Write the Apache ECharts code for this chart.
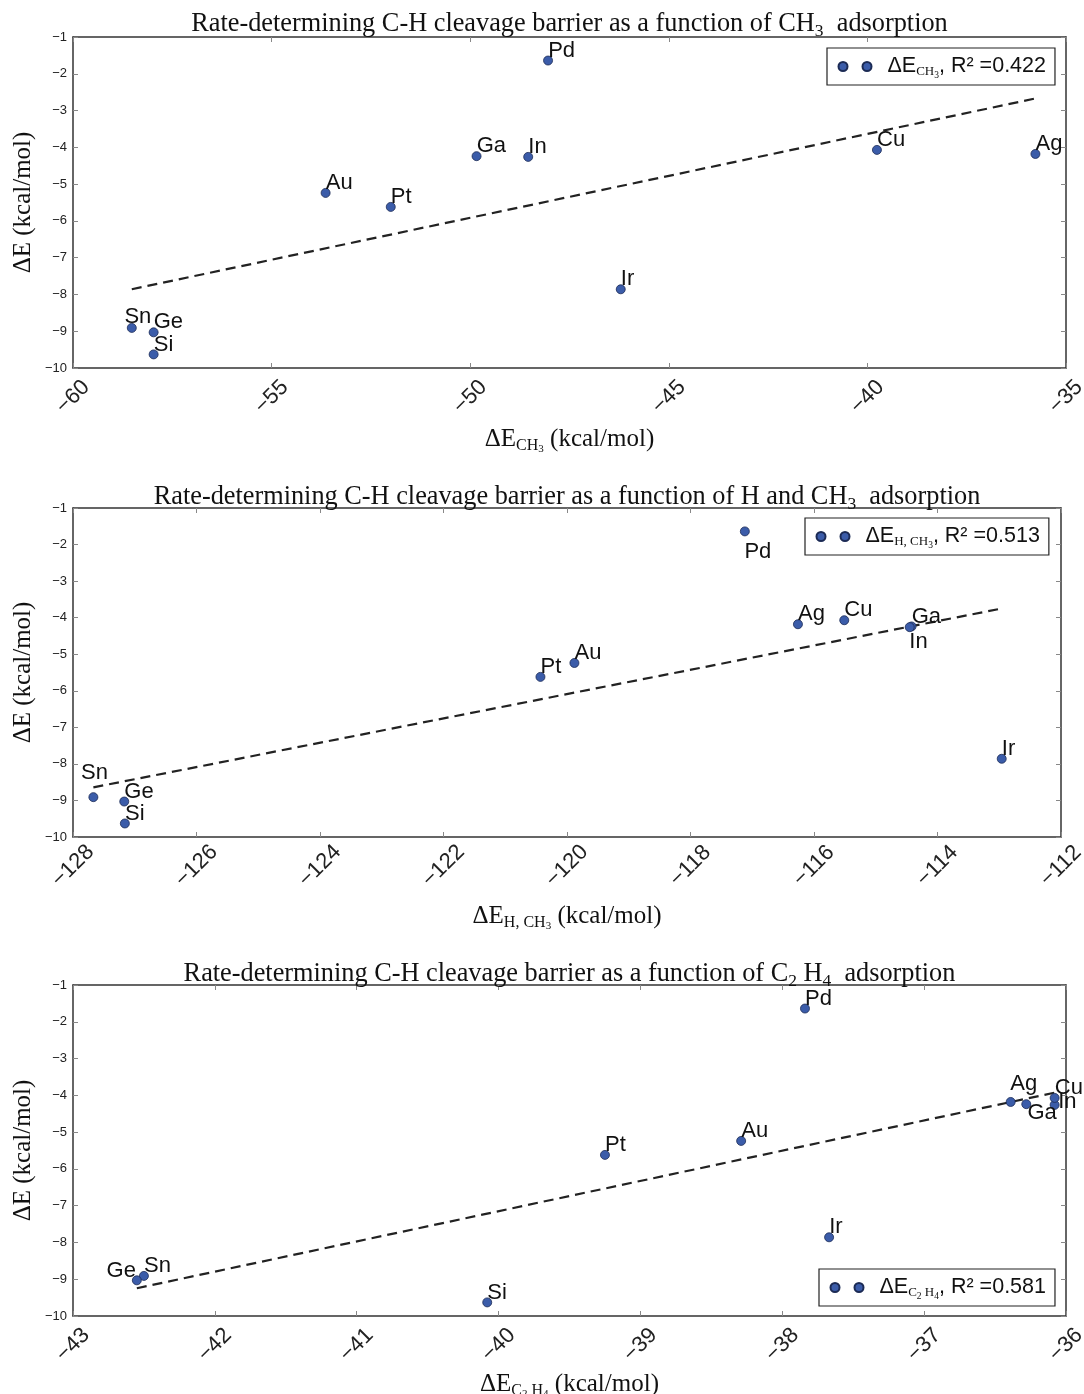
<!DOCTYPE html>
<html><head><meta charset="utf-8">
<script src="https://cdn.jsdelivr.net/npm/echarts@6/dist/echarts.min.js"></script>
<style>html,body{margin:0;padding:0;background:#fff}#c{width:1084px;height:1394px}</style>
</head><body><div id="c"></div>
<script>
// ---------------- data ----------------
const metals  = ['Pd','Ga','In','Au','Pt','Cu','Ag','Ir','Sn','Ge','Si'];
const barrier = [-1.64,-4.24,-4.26,-5.24,-5.62,-4.07,-4.18,-7.86,-8.91,-9.03,-9.63];
const eCH3    = [-48.04,-49.84,-48.54,-53.64,-52.00,-39.76,-35.77,-46.21,-58.52,-57.97,-57.97];
const eHCH3   = [-117.12,-114.42,-114.45,-119.88,-120.43,-115.51,-116.26,-112.96,-127.67,-127.17,-127.16];
const eC2H4   = [-37.84,-36.28,-36.08,-38.29,-39.25,-36.08,-36.39,-37.67,-42.50,-42.55,-40.08];
const r2Text  = ['0.422','0.513','0.581'];
const xMin = [-60,-128,-43], xMax = [-35,-112,-36], xStep = [5,2,1];
const yMin = -10, yMax = -1, yStep = 1;

// ---------------- texts ----------------
const titleTexts = [
  '{m|Rate-determining C-H cleavage barrier as a function of CH}{s|3}{m|  adsorption}',
  '{m|Rate-determining C-H cleavage barrier as a function of H and CH}{s|3}{m|  adsorption}',
  '{m|Rate-determining C-H cleavage barrier as a function of C}{s|2}{m| H}{s|4}{m|  adsorption}'
];
const subParts = ['{s|CH}{ss|3}', '{s|H, CH}{ss|3}', '{s|C}{ss|2}{s| H}{ss|4}'];
const seriesNames = ['dE_CH3','dE_H_CH3','dE_C2H4'];

// ---------------- layout / style ----------------
const SERIF = 'Liberation Serif', SANS = 'Liberation Sans', TXT = '#111';
const grids = [
  {left:73, top:37,  width:993, height:331},
  {left:73, top:508, width:988, height:329},
  {left:73, top:985, width:993, height:331}
];
const legendPos = [{left:827,top:48},{left:805,top:518},{left:819,top:1269}];
const titleTop = [9, 482, 959];
const xNameGap = [56, 64, 53];
const labelTweaks = [
  { Sn:{position:[-2.5,4.5]} },
  { Pd:{position:[4.5,14.5], verticalAlign:'top'}, In:{position:[4.5,8.5], verticalAlign:'top'}, Sn:{position:[-7.5,-8]} },
  { Ge:{position:[4,6.5], align:'right'}, Ga:{position:[6,3], verticalAlign:'top'}, In:{position:[8.5,12.5]}, Ag:{position:[4.5,-2]} }
];
const xData = [eCH3, eHCH3, eC2H4];

function fitLine(xs, ys){
  const n = xs.length;
  const mx = xs.reduce((a,b)=>a+b,0)/n, my = ys.reduce((a,b)=>a+b,0)/n;
  let sxy=0, sxx=0;
  for(let i=0;i<n;i++){ sxy += (xs[i]-mx)*(ys[i]-my); sxx += (xs[i]-mx)*(xs[i]-mx); }
  const b = sxy/sxx, a = my - b*mx;
  const x0 = Math.min(...xs), x1 = Math.max(...xs);
  return [[x0, a+b*x0],[x1, a+b*x1]];
}
const fmt = v => (v<0?'\u2212':'') + Math.abs(v);

const option = {
  animation:false,
  backgroundColor:'#fff',
  title: titleTexts.map((t,i)=>({
    text:t, left: grids[i].left + grids[i].width/2, top: titleTop[i], textAlign:'center', padding:0,
    textStyle:{ fontWeight:'normal', rich:{
      m:{fontFamily:SERIF, fontSize:26.3, lineHeight:31, fontWeight:'normal', color:TXT},
      s:{fontFamily:SERIF, fontSize:17.5, lineHeight:17.5, padding:[13,0,0,0], fontWeight:'normal', color:TXT}
    }}
  })),
  grid: grids.map(g=>Object.assign({containLabel:false, outerBoundsMode:'none'}, g)),
  legend: legendPos.map((p,i)=>({
    left:p.left, top:p.top, data:[seriesNames[i]], selectedMode:false,
    itemWidth:33, itemHeight:9,
    icon:'path://M0,4.5A4.5,4.5,0,1,1,9,4.5A4.5,4.5,0,1,1,0,4.5ZM24,4.5A4.5,4.5,0,1,1,33,4.5A4.5,4.5,0,1,1,24,4.5Z',
    borderColor:'#222', borderWidth:1.2, borderRadius:0, backgroundColor:'#fff',
    padding:[5,9,5,10.5],
    formatter: ()=> '{m|\u0394E}' + subParts[i] + '{m|, R\u00b2 =' + r2Text[i] + '}',
    textStyle:{ padding:[0,0,0,11], rich:{
      m:{fontFamily:SANS, fontSize:21.5, lineHeight:25, color:TXT},
      s:{fontFamily:SERIF, fontSize:13, lineHeight:13, padding:[11,0,0,0], color:TXT},
      ss:{fontFamily:SERIF, fontSize:9.5, lineHeight:9.5, padding:[17,0,0,0], color:TXT}
    }}
  })),
  xAxis: [],
  yAxis: [],
  series: []
};

const frame = {show:true, lineStyle:{color:'#333', width:1.5}};
const tick = {show:true, inside:true, length:5, lineStyle:{color:'#888', width:1}};

for(let i=0;i<3;i++){
  option.xAxis.push({
    type:'value', gridIndex:i, position:'bottom', min:xMin[i], max:xMax[i], interval:xStep[i],
    axisLine:frame, axisTick:tick, splitLine:{show:false},
    axisLabel:{show:true, formatter:fmt, rotate:45, align:'center', verticalAlign:'middle', margin:29,
      fontFamily:SANS, fontSize:22, color:'#222', showMinLabel:true, showMaxLabel:true},
    name:'{m|\u0394E}' + subParts[i] + '{m| (kcal/mol)}', nameLocation:'middle', nameGap:xNameGap[i],
    nameTextStyle:{ rich:{
      m:{fontFamily:SERIF, fontSize:25, lineHeight:30, color:TXT},
      s:{fontFamily:SERIF, fontSize:16, lineHeight:16, padding:[13,0,0,0], color:TXT},
      ss:{fontFamily:SERIF, fontSize:11, lineHeight:11, padding:[20,0,0,0], color:TXT}
    }}
  });
  option.xAxis.push({
    type:'value', gridIndex:i, position:'top', min:xMin[i], max:xMax[i], interval:xStep[i],
    axisLine:frame, axisTick:tick, axisLabel:{show:false}, splitLine:{show:false}
  });
  option.yAxis.push({
    type:'value', gridIndex:i, position:'left', min:yMin, max:yMax, interval:yStep,
    axisLine:frame, axisTick:tick, splitLine:{show:false},
    axisLabel:{formatter:fmt, margin:6, fontFamily:SANS, fontSize:13, color:'#222', showMinLabel:true, showMaxLabel:true},
    name:'\u0394E (kcal/mol)', nameLocation:'middle', nameRotate:90, nameGap:35, nameMoveOverlap:false,
    nameTextStyle:{fontFamily:SERIF, fontSize:25, lineHeight:30, color:TXT}
  });
  option.yAxis.push({
    type:'value', gridIndex:i, position:'right', min:yMin, max:yMax, interval:yStep,
    axisLine:frame, axisTick:tick, axisLabel:{show:false}, splitLine:{show:false}
  });

  option.series.push({
    type:'line', xAxisIndex:2*i, yAxisIndex:2*i, data:fitLine(xData[i], barrier),
    showSymbol:false, symbol:'none', silent:true, z:1,
    lineStyle:{color:'#222', width:2.2, type:[10,6]}
  });
  option.series.push({
    type:'scatter', name:seriesNames[i], xAxisIndex:2*i, yAxisIndex:2*i, z:3,
    symbol:'circle', symbolSize:9,
    itemStyle:{color:'#3b5ca9', borderColor:'#1c2b55', borderWidth:0.8, opacity:1},
    label:{show:true, formatter:'{b}', position:[5,6], align:'left', verticalAlign:'bottom',
      fontFamily:SANS, fontSize:22, color:TXT},
    data: metals.map((m,k)=>{
      const d = {name:m, value:[xData[i][k], barrier[k]]};
      if(labelTweaks[i][m]) d.label = labelTweaks[i][m];
      return d;
    })
  });
}

const chart = echarts.init(document.getElementById('c'), null, {renderer:'canvas'});
chart.setOption(option);
</script>
</body></html>
